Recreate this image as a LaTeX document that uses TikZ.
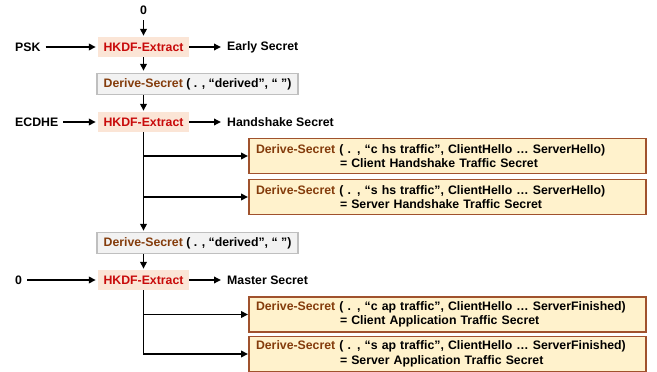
\documentclass[tikz,border=0pt]{standalone}
\usepackage{fontspec}
\setmainfont{Liberation Sans}
\usetikzlibrary{arrows.meta}
\definecolor{hkfill}{HTML}{FBE5D6}
\definecolor{hkred}{HTML}{C80A0A}
\definecolor{dsbrown}{HTML}{843C0C}
\definecolor{obord}{HTML}{A0522D}
\definecolor{ofill}{HTML}{FFF2CC}
\definecolor{gfill}{HTML}{F2F2F2}
\definecolor{gbord}{HTML}{BFBFBF}
\newcommand{\ds}{\textcolor{dsbrown}{Derive-Secret}}
\begin{document}
\begin{tikzpicture}[x=1pt,y=-1pt,
  every node/.style={font=\fontsize{12.3}{14.5}\selectfont\bfseries},
  hk/.style={fill=hkfill, text=hkred, minimum width=91, minimum height=20, inner sep=0},
  gbox/.style={fill=gfill, draw=gbord, line width=1.4, minimum width=201, minimum height=21, inner sep=0},
  obox/.style={fill=ofill, draw=obord, line width=1.9, text width=383, inner xsep=7, inner ysep=2, minimum height=35, align=left},
  lbl/.style={inner sep=0},
  flow/.style={line width=1.9, -{Triangle[length=7,width=6.5]}},
]
\useasboundingbox (0,0) rectangle (657,372);

% early secret
\node[lbl] (z0) at (143.5,10.5) {0};
\node[hk] (h1) at (143.5,47) {HKDF-Extract};
\node[lbl, anchor=west] (psk) at (15,47) {PSK};
\node[lbl, anchor=west] (es) at (227,47) {Early Secret};
\node[gbox] (d1) at (197.5,84) {\ds{} ( . , “derived”, “ ”)};

% handshake secret
\node[hk] (h2) at (143.5,122) {HKDF-Extract};
\node[lbl, anchor=west] (ecdhe) at (15,122) {ECDHE};
\node[lbl, anchor=west] (hs) at (227,122) {Handshake Secret};
\node[obox] (b1) at (447.5,156) {\ds{} ( . , “c hs traffic”, ClientHello … ServerHello)\\\hspace*{84pt}= Client Handshake Traffic Secret};
\node[obox] (b2) at (447.5,197) {\ds{} ( . , “s hs traffic”, ClientHello … ServerHello)\\\hspace*{84pt}= Server Handshake Traffic Secret};
\node[gbox] (d2) at (197.5,243) {\ds{} ( . , “derived”, “ ”)};

% master secret
\node[hk] (h3) at (143.5,280) {HKDF-Extract};
\node[lbl, anchor=west] (z1) at (15,280) {0};
\node[lbl, anchor=west] (ms) at (227,280) {Master Secret};
\node[obox] (b3) at (447.5,314.5) {\ds{} ( . , “c ap traffic”, ClientHello … ServerFinished)\\\hspace*{84pt}= Client Application Traffic Secret};
\node[obox] (b4) at (447.5,354) {\ds{} ( . , “s ap traffic”, ClientHello … ServerFinished)\\\hspace*{84pt}= Server Application Traffic Secret};

% connectors
\draw[flow, shorten <=5, shorten >=1] (z0) -- (h1);
\draw[flow, shorten <=5, shorten >=2] (psk) -- (h1);
\draw[flow, shorten >=6] (h1) -- (es);
\draw[flow, shorten >=2] (h1) -- (h1.south |- d1.north);
\draw[flow, shorten >=1] (h1.south |- d1.south) -- (h2);
\draw[flow, shorten <=5, shorten >=2] (ecdhe) -- (h2);
\draw[flow, shorten >=6] (h2) -- (hs);
\draw[flow, shorten >=1] (h2) -- (h2.south |- d2.north);
\draw[flow] (h2.south |- b1.west) -- (b1.west);
\draw[flow] (h2.south |- b2.west) -- (b2.west);
\draw[flow, shorten >=1] (h2.south |- d2.south) -- (h3);
\draw[flow, shorten <=5, shorten >=2] (z1) -- (h3);
\draw[flow, shorten >=6] (h3) -- (ms);
\draw[flow] (h3.south |- b3.west) -- (b3.west);
\draw[flow] (h3.south) |- (b4.west);
\end{tikzpicture}
\end{document}
